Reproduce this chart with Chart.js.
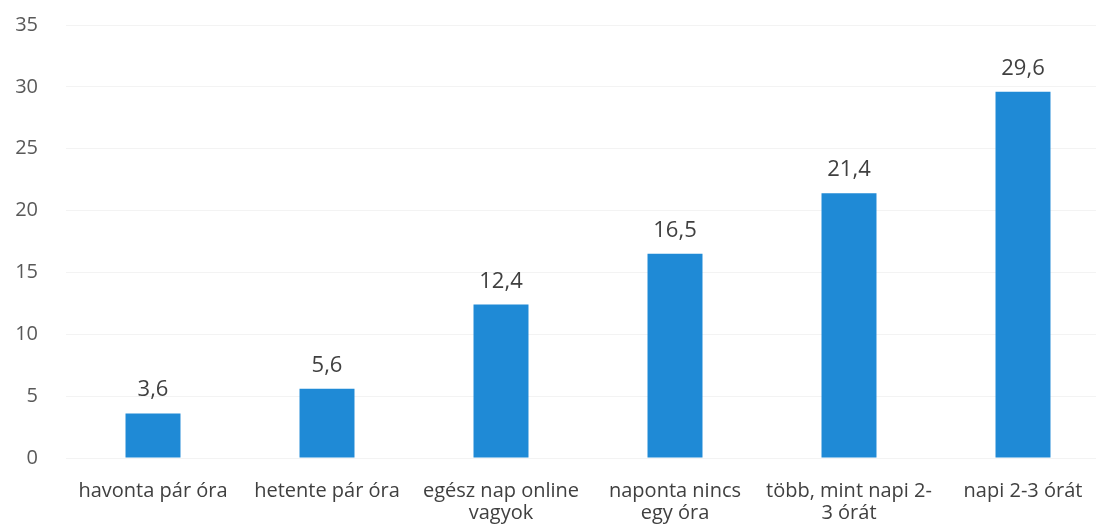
<!DOCTYPE html>
<html><head><meta charset="utf-8">
<script src="https://cdn.jsdelivr.net/npm/chart.js@4"></script>
<style>
html,body{margin:0;padding:0;background:#fff;overflow:hidden;width:1096px;height:524px;}
#wrap{position:relative;width:1112px;height:539px;margin-top:-15px;}
</style></head><body>
<div id="wrap"><canvas id="c"></canvas></div>
<script>
const categories = [
  "havonta pár óra",
  "hetente pár óra",
  ["egész nap online", "vagyok"],
  ["naponta nincs", "egy óra"],
  ["több, mint napi 2-", "3 órát"],
  "napi 2-3 órát"
];
const values = [3.6, 5.6, 12.4, 16.5, 21.4, 29.6];
const yTicks = [0, 5, 10, 15, 20, 25, 30, 35];

const FONT = '"Open Sans", Lato, sans-serif';

const labelPlugin = {
  id: 'vals',
  afterDatasetsDraw(chart) {
    const ctx = chart.ctx;
    const meta = chart.getDatasetMeta(0);
    ctx.save();
    ctx.font = '22px ' + FONT;
    ctx.fillStyle = '#404040';
    ctx.textAlign = 'center';
    ctx.textBaseline = 'alphabetic';
    meta.data.forEach((bar, i) => {
      ctx.fillText(values[i].toFixed(1).replace('.', ','), bar.x, bar.y - 17);
    });
    ctx.restore();
  }
};

new Chart(document.getElementById('c'), {
  type: 'bar',
  data: {
    labels: categories,
    datasets: [{
      data: values,
      backgroundColor: '#1f8ad6',
      categoryPercentage: 1,
      barPercentage: 0.316
    }]
  },
  options: {
    responsive: true,
    maintainAspectRatio: false,
    animation: false,
    layout: { padding: { top: 12, right: 2, left: 0, bottom: 0 } },
    plugins: { legend: { display: false }, tooltip: { enabled: false } },
    scales: {
      x: {
        grid: { display: false, drawTicks: false },
        border: { display: false },
        ticks: {
          color: '#404040',
          font: { size: 20, family: FONT, lineHeight: 1.1 },
          padding: 22,
          maxRotation: 0,
          autoSkip: false
        },
        afterFit(s) { s.height = 66; }
      },
      y: {
        min: 0, max: 35,
        afterBuildTicks(s) { s.ticks = yTicks.map(v => ({ value: v })); },
        grid: { color: '#f3f3f3', drawTicks: false },
        border: { display: false },
        ticks: {
          color: '#595959',
          font: { size: 20, family: FONT },
          padding: 28
        },
        afterFit(s) { s.width = 66; }
      }
    }
  },
  plugins: [labelPlugin]
});
</script>
</body></html>
